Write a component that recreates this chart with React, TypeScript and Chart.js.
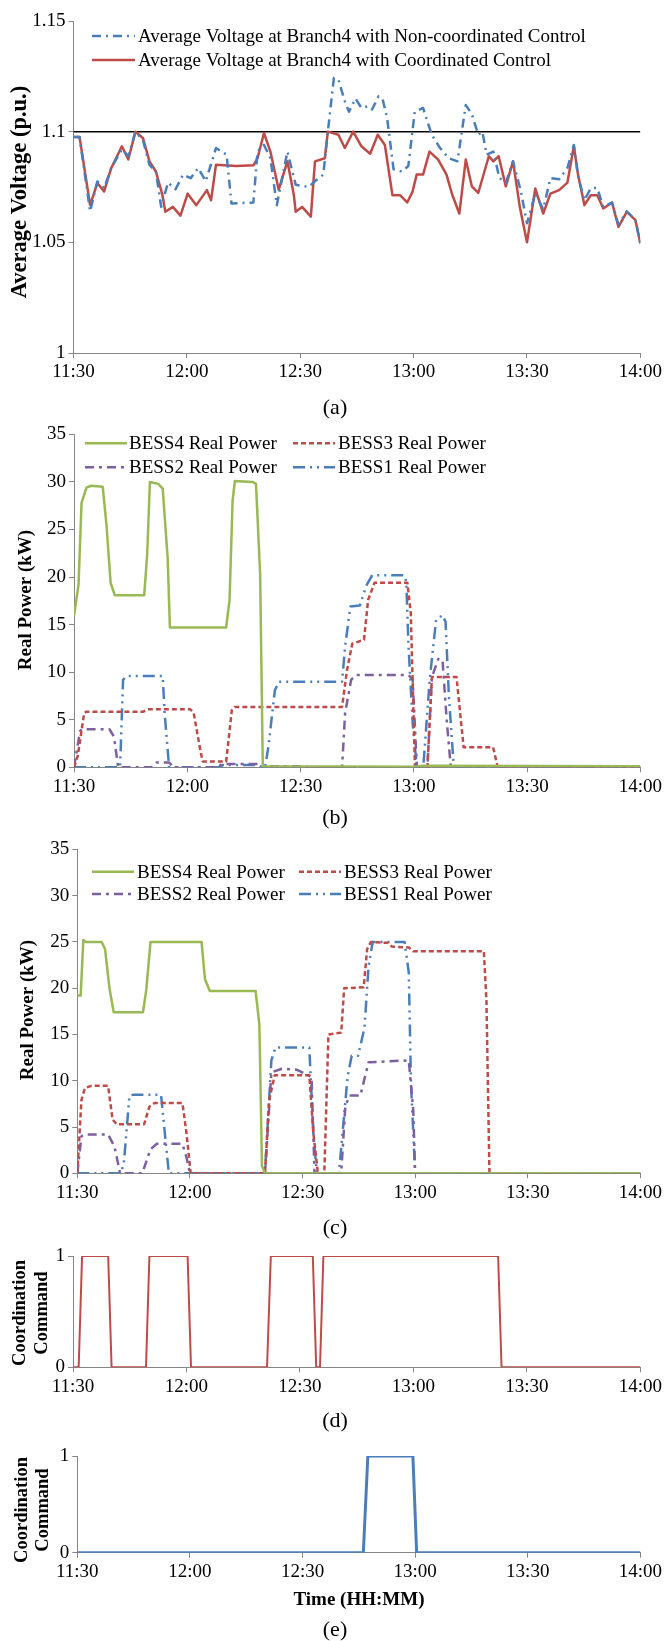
import React, { useEffect, useRef } from "react";
import { Chart, registerables } from "chart.js";
Chart.register(...registerables);

const FONT = "'Liberation Serif', 'Times New Roman', serif";
const AXIS = "#868686";
const W = 665;

// ---------- shared x axis (minutes after 11:30) ----------
const xTickMinutes = [0, 30, 60, 90, 120, 150];
const xTickLabels = ["11:30", "12:00", "12:30", "13:00", "13:30", "14:00"];

// ---------- (a) average voltage ----------
const voltTicks = [1, 1.05, 1.1, 1.15];
const voltTickLabels = ["1", "1.05", "1.1", "1.15"];
const voltLimit = 1.1;
const voltNonCoord = [
  [0, 1.0976], [1.6, 1.0976], [4.4, 1.064], [6.3, 1.0775], [8.1, 1.0745], [10.0, 1.0836], [12.8, 1.092], [14.5, 1.089],
  [16.4, 1.1], [18.4, 1.096], [20.1, 1.085], [21.8, 1.082], [23.2, 1.066], [25.0, 1.077], [27.0, 1.074], [29.0, 1.0806],
  [31.0, 1.079], [33.0, 1.0836], [35.0, 1.0776], [37.7, 1.0926], [40.5, 1.0896], [41.8, 1.0676], [47.6, 1.068], [48.7, 1.091],
  [50.4, 1.094], [52.1, 1.088], [53.8, 1.0668], [56.6, 1.091], [58.8, 1.076], [62.2, 1.075], [63.9, 1.0776], [66.1, 1.0806],
  [67.3, 1.1], [68.9, 1.1242], [70.1, 1.1235], [71.8, 1.1137], [72.9, 1.109], [74.6, 1.115], [76.2, 1.1107], [77.9, 1.1115],
  [79.0, 1.11], [80.7, 1.116], [81.9, 1.114], [83.0, 1.106], [84.7, 1.083], [86.9, 1.082], [88.6, 1.0845], [90.3, 1.109],
  [92.5, 1.1107], [94.8, 1.0986], [97.0, 1.0926], [99.3, 1.088], [101.6, 1.0866], [103.8, 1.112], [105.4, 1.108], [107.1, 1.0986],
  [108.2, 1.1], [109.3, 1.0896], [111.1, 1.091], [112.7, 1.0791], [114.4, 1.0768], [116.3, 1.0866], [118.4, 1.073], [120.0, 1.0586],
  [122.2, 1.072], [124.3, 1.065], [126.2, 1.079], [128.5, 1.0785], [130.7, 1.0836], [132.4, 1.094], [133.5, 1.08], [135.2, 1.069],
  [136.9, 1.0745], [138.6, 1.0745], [140.2, 1.066], [142.5, 1.068], [144.2, 1.058], [146.4, 1.064], [148.7, 1.06], [150, 1.0495],
];
const voltCoord = [
  [0, 1.0976], [1.6, 1.0976], [4.4, 1.0668], [6.3, 1.0768], [8.1, 1.073], [10.0, 1.0836], [12.8, 1.0934], [14.5, 1.0874],
  [16.4, 1.1], [18.4, 1.097], [20.1, 1.0866], [21.8, 1.082], [23.5, 1.0716], [24.3, 1.0638], [26.3, 1.066], [28.3, 1.0621],
  [30.2, 1.072], [32.5, 1.0668], [35.3, 1.0736], [36.4, 1.069], [37.7, 1.085], [43.1, 1.0845], [47.6, 1.0848], [48.7, 1.088],
  [50.4, 1.0994], [52.1, 1.091], [54.3, 1.0738], [56.6, 1.0866], [58.3, 1.0715], [58.8, 1.0638], [60.5, 1.066], [62.8, 1.0616],
  [63.9, 1.0866], [66.5, 1.088], [67.3, 1.1], [70.1, 1.0986], [71.8, 1.0926], [74.0, 1.1], [76.2, 1.0934], [78.5, 1.09],
  [80.5, 1.0986], [82.4, 1.094], [84.4, 1.0713], [86.4, 1.0713], [88.3, 1.068], [89.7, 1.0728], [90.8, 1.0806], [92.5, 1.0806],
  [94.2, 1.091], [96.5, 1.0874], [98.7, 1.0806], [100.2, 1.0716], [102.1, 1.063], [103.8, 1.0874], [105.4, 1.0753], [107.1, 1.0723],
  [109.9, 1.0889], [111.1, 1.0866], [112.5, 1.0889], [114.4, 1.0753], [116.3, 1.0866], [118.1, 1.066], [120.0, 1.05], [122.2, 1.0743],
  [124.3, 1.063], [126.2, 1.072], [128.5, 1.0736], [130.7, 1.077], [132.4, 1.0934], [133.5, 1.0806], [135.2, 1.0668], [136.9, 1.0713],
  [138.6, 1.0713], [140.2, 1.0653], [142.5, 1.068], [144.2, 1.057], [146.4, 1.0638], [148.7, 1.06], [150, 1.0495],
];

// ---------- power axis ----------
const powerTicks = [0, 5, 10, 15, 20, 25, 30, 35];

// ---------- (b) non-coordinated BESS real power ----------
const bNonBess4 = [
  [0, 15.9], [1.2, 19.2], [2.0, 27.8], [3.3, 29.4], [4.5, 29.6], [7.6, 29.5], [8.6, 25.5], [9.7, 19.4], [10.8, 18.1],
  [18.6, 18.1], [19.4, 22.5], [20.1, 30.0], [22.3, 29.8], [23.5, 29.3], [24.8, 22.0], [25.4, 14.7], [40.3, 14.7],
  [41.2, 17.6], [42.0, 28.0], [42.6, 30.1], [47.3, 30.0], [48.2, 29.8], [49.3, 20.3], [50.0, 0.1], [90.0, 0.05],
  [92.0, 0.15], [150, 0.1],
];
const bNonBess3 = [
  [0, 0], [1.0, 1.2], [2.7, 5.7], [3.3, 5.85], [18.4, 5.85], [19.5, 6.1], [30.8, 6.1], [31.7, 5.7], [33.6, 1.5],
  [34.1, 0.6], [40.3, 0.6], [41.8, 6.0], [42.6, 6.35], [71.0, 6.35], [72.3, 10.2], [73.7, 13.0], [76.8, 13.4],
  [77.9, 17.6], [79.6, 19.4], [88.3, 19.4], [89.2, 16.2], [90.3, 0], [93.6, 0], [94.8, 9.5], [101.3, 9.5],
  [103.2, 2.1], [111.0, 2.1], [112.2, 0.05], [150, 0.05],
];
const bNonBess2 = [
  [0, 0], [1.6, 3.8], [2.1, 4.0], [9.4, 4.0], [10.6, 3.2], [11.7, 0], [20.5, 0], [21.8, 0.5], [25.2, 0.5], [26.3, 0],
  [38.0, 0], [39.2, 0.35], [48.7, 0.35], [50.0, 0.1], [61.0, 0.1], [62.0, 0], [71.0, 0], [71.8, 5.7], [73.4, 9.2],
  [74.6, 9.7], [88.6, 9.7], [89.7, 9.2], [90.8, 0], [93.6, 0], [94.8, 9.5], [96.5, 11.4], [97.6, 11.3], [98.7, 5.0],
  [99.8, 0], [150, 0],
];
const bNonBess1 = [
  [0, 0], [12.2, 0], [13.0, 9.2], [13.9, 9.6], [23.5, 9.6], [24.0, 5.7], [25.2, 0], [38.5, 0], [39.5, 0.25], [48.5, 0.25],
  [49.9, 0], [50.6, 0], [51.5, 2.2], [53.2, 8.1], [54.3, 9.0], [71.0, 9.0], [71.8, 12.7], [73.2, 16.9], [75.7, 17.0],
  [77.4, 19.1], [79.0, 20.2], [87.5, 20.2], [88.0, 19.5], [88.6, 12.7], [89.7, 4.6], [90.8, 0], [92.5, 0], [94.2, 9.2],
  [95.9, 15.5], [97.6, 16.0], [98.4, 15.3], [99.3, 7.4], [100.6, 0], [150, 0],
];

// ---------- (c) coordinated BESS real power ----------
const cCoBess4 = [
  [0, 19.2], [0.9, 19.2], [1.6, 25.2], [2.3, 25.0], [6.5, 25.0], [7.4, 24.2], [8.6, 19.9], [9.7, 17.4], [17.5, 17.4],
  [18.4, 19.9], [19.5, 25.0], [33.1, 25.0], [34.0, 21.0], [35.3, 19.7], [47.5, 19.7], [48.5, 16.1], [49.2, 0.8],
  [50.0, 0], [150, 0],
];
const cCoBess3 = [
  [0, 0], [1.1, 7.9], [2.0, 9.2], [3.7, 9.45], [8.2, 9.45], [9.4, 5.8], [10.5, 5.3], [17.8, 5.3], [19.2, 7.2], [20.6, 7.6],
  [28.0, 7.6], [29.1, 4.3], [30.2, 0], [50.0, 0], [51.1, 7.9], [52.6, 10.6], [61.8, 10.6], [62.9, 4.3], [64.1, 0],
  [65.8, 0], [66.9, 15.0], [70.3, 15.2], [71.1, 20.0], [76.3, 20.1], [77.2, 24.2], [78.2, 25.0], [82.7, 24.9],
  [83.8, 24.5], [88.3, 24.4], [89.5, 24.0], [108.3, 24.0], [109.0, 18.6], [109.8, 0], [150, 0],
];
const cCoBess2 = [
  [0, 0], [1.1, 4.0], [2.0, 4.2], [8.2, 4.2], [9.9, 2.9], [11.4, 0], [17.3, 0], [19.5, 2.6], [21.2, 3.2], [28.0, 3.2],
  [29.1, 1.7], [30.0, 0], [50.0, 0], [51.7, 10.9], [54.5, 11.3], [58.4, 11.2], [62.4, 10.4], [63.2, 0], [70.3, 0],
  [71.4, 7.2], [72.5, 8.4], [75.4, 8.4], [77.6, 12.0], [88.3, 12.2], [89.5, 6.8], [90.0, 0], [150, 0],
];
const cCoBess1 = [
  [0, 0], [11.6, 0], [12.4, 1.1], [13.9, 8.4], [15.0, 8.5], [22.3, 8.5], [23.5, 3.6], [24.4, 0], [50.0, 0], [51.7, 12.2],
  [52.8, 13.6], [61.8, 13.6], [62.9, 4.3], [63.8, 0], [69.7, 0], [70.8, 5.0], [72.0, 10.4], [73.1, 12.7], [74.8, 12.7],
  [76.5, 15.7], [77.6, 22.4], [78.7, 25.0], [87.2, 25.0], [88.3, 21.7], [88.9, 9.7], [90.0, 0], [150, 0],
];

// ---------- (d)/(e) coordination command ----------
const cmdTicks = [0, 1];
const cmdCoordinated = [
  [0, 0], [1.5, 0], [2.4, 1], [9.3, 1], [10.2, 0], [19.3, 0], [20.2, 1], [30.3, 1], [31.2, 0], [51.3, 0], [52.3, 1],
  [63.4, 1], [64.3, 0], [65.3, 0], [66.2, 1], [112.4, 1], [113.3, 0], [150, 0],
];
const cmdNonCoordinated = [[0, 0], [76.2, 0], [77.4, 1], [89.4, 1], [90.4, 0], [150, 0]];

// ---------- styles ----------
const BLUE = "#4a7ebb";
const RED = "#be4b48";
const GREEN = "#98b954";
const PURPLE = "#7d60a0";

const toXY = (pairs: number[][]) => pairs.map(([x, y]) => ({ x, y }));

function line(label: string, pairs: number[][], color: string, width: number, dash: number[] = []) {
  return {
    label,
    data: toXY(pairs),
    borderColor: color,
    backgroundColor: color,
    borderWidth: width,
    borderDash: dash,
    pointRadius: 0,
    fill: false,
    tension: 0,
    borderJoinStyle: "round" as const,
  };
}

type Spec = {
  canvasTop: number;
  h: number;
  left: number;
  right: number;
  top: number;
  bottom: number;
  yMin: number;
  yMax: number;
  yTicks: number[];
  yLabel: (v: number) => string;
  datasets: any[];
  yTitle: { lines: string[]; xs: number[]; y: number; size: number };
  legend?: { x1: number; x2: number; tx: number; y: number; ds: number }[];
  caption: { text: string; x: number; y: number };
  xTitle?: { text: string; x: number; y: number };
};

function extrasPlugin(spec: Spec) {
  return {
    id: "extras",
    afterDraw(chart: any) {
      const ctx = chart.ctx as CanvasRenderingContext2D;
      const off = spec.canvasTop;
      ctx.save();
      ctx.fillStyle = "#000";
      // y title
      ctx.font = `bold ${spec.yTitle.size}px ${FONT}`;
      ctx.textAlign = "center";
      ctx.textBaseline = "middle";
      spec.yTitle.lines.forEach((t, i) => {
        ctx.save();
        ctx.translate(spec.yTitle.xs[i], spec.yTitle.y - off);
        ctx.rotate(-Math.PI / 2);
        ctx.fillText(t, 0, 0);
        ctx.restore();
      });
      // x title
      if (spec.xTitle) {
        ctx.font = `bold 19px ${FONT}`;
        ctx.fillText(spec.xTitle.text, spec.xTitle.x, spec.xTitle.y - off);
      }
      // caption
      ctx.font = `22px ${FONT}`;
      ctx.fillText(spec.caption.text, spec.caption.x, spec.caption.y - off);
      // legend
      if (spec.legend) {
        ctx.font = `19px ${FONT}`;
        ctx.textAlign = "left";
        for (const e of spec.legend) {
          const ds = spec.datasets[e.ds];
          ctx.save();
          ctx.strokeStyle = ds.borderColor;
          ctx.lineWidth = ds.borderWidth;
          ctx.setLineDash(ds.borderDash || []);
          ctx.beginPath();
          ctx.moveTo(e.x1, e.y - off);
          ctx.lineTo(e.x2, e.y - off);
          ctx.stroke();
          ctx.restore();
          ctx.fillStyle = "#000";
          ctx.fillText(ds.label, e.tx, e.y - off + 1);
        }
      }
      ctx.restore();
    },
  };
}

function makeChart(canvas: HTMLCanvasElement, spec: Spec) {
  const xLabel = (v: number) => {
    const i = xTickMinutes.indexOf(v);
    return i >= 0 ? xTickLabels[i] : "";
  };
  return new Chart(canvas, {
    type: "line",
    data: { datasets: spec.datasets },
    options: {
      animation: false,
      responsive: false,
      maintainAspectRatio: false,
      devicePixelRatio: 1,
      layout: { padding: { left: 0, right: W - spec.right, top: spec.top - spec.canvasTop, bottom: 0 } },
      plugins: { legend: { display: false }, tooltip: { enabled: false } },
      elements: { point: { radius: 0 } },
      scales: {
        x: {
          type: "linear",
          min: 0,
          max: 150,
          afterBuildTicks: (s: any) => {
            s.ticks = xTickMinutes.map((v) => ({ value: v }));
          },
          afterFit: (s: any) => {
            s.height = spec.h - (spec.bottom - spec.canvasTop);
          },
          grid: { drawOnChartArea: false, drawTicks: true, tickLength: 5, color: AXIS },
          border: { display: true, color: AXIS, width: 1 },
          ticks: {
            font: { family: FONT, size: 19 },
            color: "#000",
            padding: 3,
            maxRotation: 0,
            autoSkip: false,
            callback: (v: any) => xLabel(Number(v)),
          },
        },
        y: {
          type: "linear",
          min: spec.yMin,
          max: spec.yMax,
          afterBuildTicks: (s: any) => {
            s.ticks = spec.yTicks.map((v) => ({ value: v }));
          },
          afterFit: (s: any) => {
            s.width = spec.left;
          },
          grid: { drawOnChartArea: false, drawTicks: true, tickLength: 5, color: AXIS },
          border: { display: true, color: AXIS, width: 1 },
          ticks: {
            font: { family: FONT, size: 19 },
            color: "#000",
            padding: 3,
            autoSkip: false,
            callback: (v: any) => spec.yLabel(Number(v)),
          },
        },
      },
    } as any,
    plugins: [extrasPlugin(spec)],
  });
}

function bessDatasets(b4: number[][], b3: number[][], b2: number[][], b1: number[][]) {
  return [
    line("BESS4 Real Power", b4, GREEN, 2.5),
    line("BESS3 Real Power", b3, RED, 2.5, [5, 3]),
    line("BESS2 Real Power", b2, PURPLE, 2.5, [9, 5, 3, 5]),
    line("BESS1 Real Power", b1, BLUE, 2.5, [12, 5, 2, 5, 2, 5]),
  ];
}

const powerLabel = (v: number) => String(v);
const voltLabel = (v: number) => {
  const i = voltTicks.findIndex((t) => Math.abs(t - v) < 1e-9);
  return i >= 0 ? voltTickLabels[i] : "";
};

const specs: Spec[] = [
  {
    canvasTop: 0, h: 420, left: 73.5, right: 641, top: 21, bottom: 353,
    yMin: 1, yMax: 1.15, yTicks: voltTicks, yLabel: voltLabel,
    datasets: [
      line("Average Voltage at Branch4 with Non-coordinated Control", voltNonCoord, BLUE, 2.5, [9, 5, 2, 5]),
      line("Average Voltage at Branch4 with Coordinated Control", voltCoord, RED, 2.5),
      line("limit", [[0, voltLimit], [150, voltLimit]], "#000", 1.5),
    ],
    yTitle: { lines: ["Average Voltage (p.u.)"], xs: [20], y: 192, size: 22.5 },
    legend: [
      { x1: 92, x2: 135, tx: 138, y: 36, ds: 0 },
      { x1: 92, x2: 135, tx: 138, y: 60, ds: 1 },
    ],
    caption: { text: "(a)", x: 335, y: 408 },
  },
  {
    canvasTop: 420, h: 415, left: 74, right: 641, top: 433.3, bottom: 767.3,
    yMin: 0, yMax: 35, yTicks: powerTicks, yLabel: powerLabel,
    datasets: bessDatasets(bNonBess4, bNonBess3, bNonBess2, bNonBess1),
    yTitle: { lines: ["Real Power (kW)"], xs: [26], y: 600, size: 19 },
    legend: [
      { x1: 85, x2: 127, tx: 129, y: 443.3, ds: 0 },
      { x1: 293, x2: 335, tx: 338, y: 443.3, ds: 1 },
      { x1: 85, x2: 127, tx: 129, y: 467.3, ds: 2 },
      { x1: 293, x2: 335, tx: 338, y: 467.3, ds: 3 },
    ],
    caption: { text: "(b)", x: 335, y: 818 },
  },
  {
    canvasTop: 835, h: 405, left: 77.3, right: 641, top: 846, bottom: 1173.3,
    yMin: 0, yMax: 35, yTicks: powerTicks, yLabel: powerLabel,
    datasets: bessDatasets(cCoBess4, cCoBess3, cCoBess2, cCoBess1),
    yTitle: { lines: ["Real Power (kW)"], xs: [28], y: 1010, size: 19 },
    legend: [
      { x1: 92, x2: 134, tx: 137, y: 871.7, ds: 0 },
      { x1: 299, x2: 341, tx: 344, y: 871.7, ds: 1 },
      { x1: 92, x2: 134, tx: 137, y: 894, ds: 2 },
      { x1: 299, x2: 341, tx: 344, y: 894, ds: 3 },
    ],
    caption: { text: "(c)", x: 335, y: 1228 },
  },
  {
    canvasTop: 1240, h: 200, left: 73, right: 641, top: 1256, bottom: 1367.3,
    yMin: 0, yMax: 1, yTicks: cmdTicks, yLabel: powerLabel,
    datasets: [line("Coordination Command", cmdCoordinated, RED, 2)],
    yTitle: { lines: ["Coordination", "Command"], xs: [20, 42], y: 1313, size: 18.5 },
    caption: { text: "(d)", x: 335, y: 1421 },
  },
  {
    canvasTop: 1440, h: 201, left: 77.3, right: 641, top: 1456, bottom: 1552.7,
    yMin: 0, yMax: 1, yTicks: cmdTicks, yLabel: powerLabel,
    datasets: [line("Coordination Command", cmdNonCoordinated, BLUE, 3)],
    yTitle: { lines: ["Coordination", "Command"], xs: [22, 43], y: 1510, size: 18.5 },
    xTitle: { text: "Time (HH:MM)", x: 359, y: 1600 },
    caption: { text: "(e)", x: 335, y: 1630 },
  },
];

export default function App() {
  const refs = useRef<(HTMLCanvasElement | null)[]>([]);
  useEffect(() => {
    const charts = specs.map((s, i) => makeChart(refs.current[i] as HTMLCanvasElement, s));
    return () => charts.forEach((c) => c.destroy());
  }, []);
  return (
    <div style={{ position: "absolute", left: 0, top: 0, width: W, height: 1641, background: "#fff" }}>
      {specs.map((s, i) => (
        <canvas
          key={i}
          ref={(el) => {
            refs.current[i] = el;
          }}
          width={W}
          height={s.h}
          style={{ position: "absolute", left: 0, top: s.canvasTop, width: W, height: s.h }}
        />
      ))}
    </div>
  );
}
